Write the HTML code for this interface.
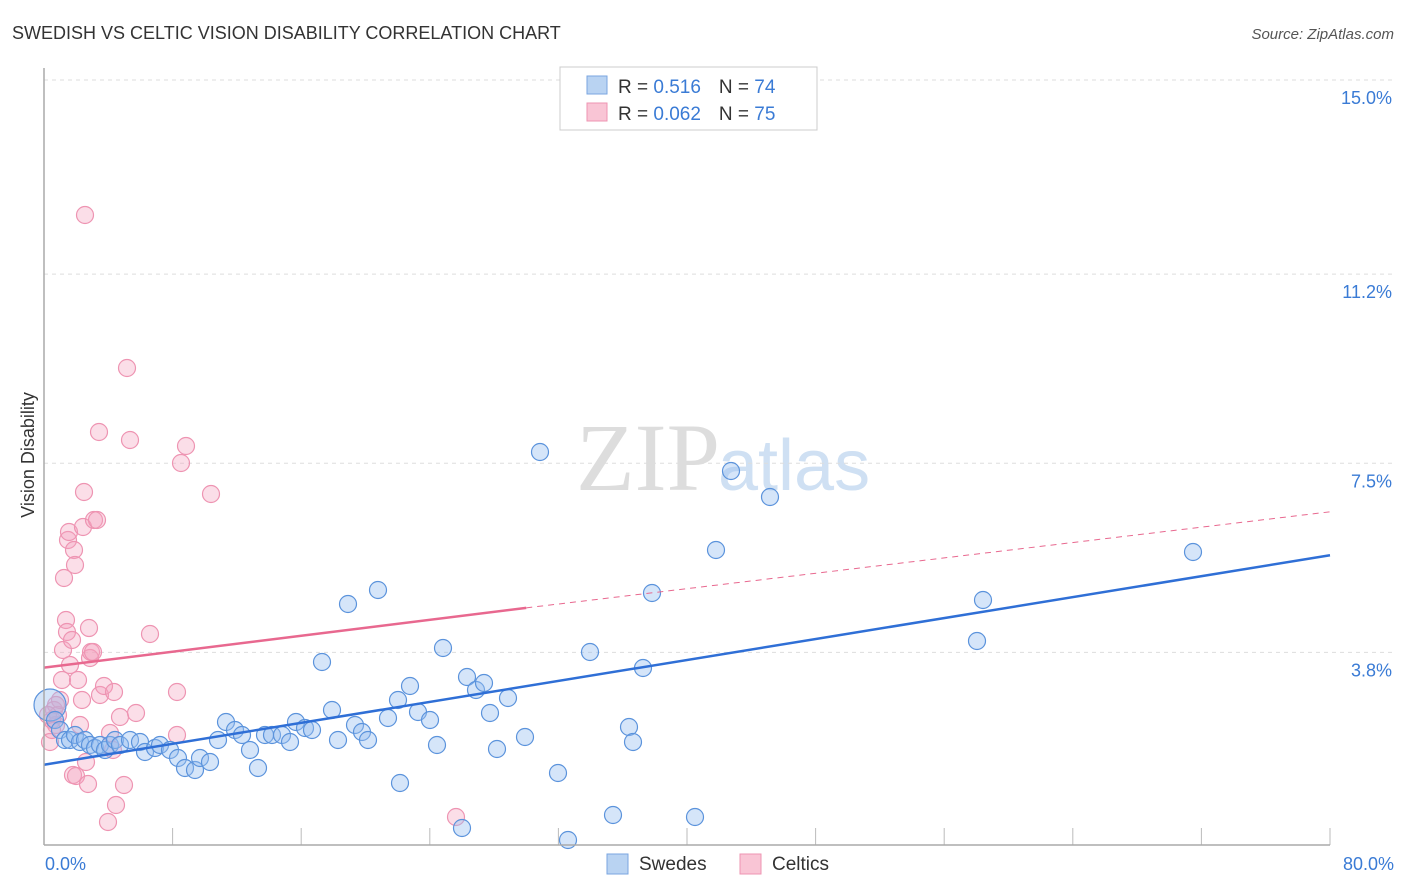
<!DOCTYPE html>
<html><head><meta charset="utf-8"><style>
body{margin:0;background:#fff;font-family:"Liberation Sans",sans-serif}
svg{display:block}
</style></head><body>
<svg id="c" width="1406" height="892">
<text x="12" y="39" font-size="18" fill="#333">SWEDISH VS CELTIC VISION DISABILITY CORRELATION CHART</text>
<text x="1394" y="39" font-size="15" fill="#555" font-style="italic" text-anchor="end">Source: ZipAtlas.com</text>
<text x="720" y="490" font-size="96" fill="#ddd" font-family="Liberation Serif" text-anchor="end">ZIP</text>
<text x="718" y="490" font-size="72" fill="#cfe0f3">atlas</text>
<text transform="translate(34,455) rotate(-90)" font-size="18" fill="#333" text-anchor="middle">Vision Disability</text>
<g id="grid"></g><g id="pts"></g><g id="lines"></g>
<line x1="44" y1="68" x2="44" y2="845" stroke="#aaa" stroke-width="1.5"/>
<line x1="44" y1="845" x2="1330" y2="845" stroke="#aaa" stroke-width="1.5"/>
<text x="45" y="870" font-size="18" fill="#3a7bd5">0.0%</text>
<text x="1394" y="870" font-size="18" fill="#3a7bd5" text-anchor="end">80.0%</text>
<g>
<rect x="560" y="67" width="257" height="63" fill="#fff" stroke="#ccc"/>
<rect x="587" y="76" width="20" height="18" fill="#b9d3f2" stroke="#7aa6e0"/>
<rect x="587" y="103" width="20" height="18" fill="#f9c5d5" stroke="#ee94b2"/>
<text x="618" y="93" font-size="19" fill="#333">R = <tspan fill="#3a7bd5">0.516</tspan><tspan dx="18">N = </tspan><tspan fill="#3a7bd5">74</tspan></text>
<text x="618" y="120" font-size="19" fill="#333">R = <tspan fill="#3a7bd5">0.062</tspan><tspan dx="18">N = </tspan><tspan fill="#3a7bd5">75</tspan></text>
</g>
<g>
<rect x="607" y="854" width="21" height="20" fill="#b9d3f2" stroke="#7aa6e0"/>
<text x="639" y="870" font-size="19" fill="#333">Swedes</text>
<rect x="740" y="854" width="21" height="20" fill="#f9c5d5" stroke="#ee94b2"/>
<text x="772" y="870" font-size="19" fill="#333">Celtics</text>
</g>
</svg>
<script>
const yTicks=[15.0,11.2,7.5,3.8];
const yTickLabels=["15.0%","11.2%","7.5%","3.8%"];
const xTicks=[0,8,16,24,32,40,48,56,64,72,80];
const bluePx=[[50,705],[55,720],[60,730],[65,740],[70,740],[75,735],[80,742],[85,740],[90,745],[95,748],[100,745],[105,750],[110,745],[115,740],[120,745],[130,740],[140,742],[145,752],[155,748],[160,745],[170,750],[178,758],[185,768],[195,770],[200,758],[210,762],[218,740],[226,722],[235,730],[242,735],[250,750],[258,768],[265,735],[272,735],[282,735],[290,742],[296,722],[305,728],[312,730],[322,662],[332,710],[338,740],[348,604],[355,725],[362,732],[368,740],[378,590],[388,718],[398,700],[400,783],[410,686],[418,712],[430,720],[437,745],[443,648],[462,828],[467,677],[476,690],[484,683],[490,713],[497,749],[508,698],[525,737],[540,452],[558,773],[568,840],[590,652],[613,815],[629,727],[633,742],[643,668],[652,593],[695,817],[716,550],[731,471],[770,497],[977,641],[983,600],[1193,552]];
const pinkPx=[[50,742],[52,720],[54,710],[56,725],[58,715],[60,700],[62,680],[63,650],[64,578],[66,620],[67,632],[68,540],[69,532],[70,665],[72,640],[73,775],[74,550],[75,565],[76,776],[78,680],[80,725],[82,700],[83,527],[84,492],[85,215],[86,762],[88,784],[89,628],[90,658],[91,652],[93,652],[94,520],[97,520],[99,432],[100,695],[104,686],[108,822],[110,733],[113,750],[114,692],[116,805],[120,717],[124,785],[127,368],[130,440],[136,713],[150,634],[177,692],[177,735],[181,463],[186,446],[211,494],[456,817],[52,730],[56,705],[48,715]];
// convert reading positions to data values
const X0=44,X1=1330,YTOP=80,PXPER=51.1;
const toX=px=>(px-X0)/(X1-X0)*80, toY=py=>15-(py-YTOP)/PXPER;
const swedesX=bluePx.map(p=>toX(p[0])), swedesY=bluePx.map(p=>toY(p[1]));
const celticsX=pinkPx.map(p=>toX(p[0])), celticsY=pinkPx.map(p=>toY(p[1]));
const blueTrend=[[0,1.6],[80,5.7]];
const pinkTrend=[[0,3.5],[30,4.67],[80,6.55]];
const sx=v=>X0+v/80*(X1-X0), sy=v=>YTOP+(15-v)*PXPER;
const NS="http://www.w3.org/2000/svg";
function mk(t,a,p){const e=document.createElementNS(NS,t);for(const k in a)e.setAttribute(k,a[k]);p.appendChild(e);return e;}
const g=document.getElementById('grid');
yTicks.forEach((v,i)=>{
 const l=mk('line',{x1:44,x2:1394,y1:sy(v),y2:sy(v),stroke:'#ddd','stroke-dasharray':'4,4'},g);
 
 
 const t=mk('text',{x:1392,y:sy(v)+24,'font-size':18,fill:'#3a7bd5','text-anchor':'end'},g);
 t.textContent=yTickLabels[i];
 
 
});
xTicks.forEach(v=>{
 const l=mk('line',{x1:sx(v),x2:sx(v),y1:828,y2:845,stroke:'#bbb'},g);
 
 
});
const pg=document.getElementById('pts');
celticsX.forEach((x,i)=>{
 const c=mk('circle',{cx:sx(x),cy:sy(celticsY[i]),r:8.5,fill:'rgba(244,160,188,0.35)',stroke:'#ee94b2','stroke-width':1.2},pg);
 
 
});
swedesX.forEach((x,i)=>{
 const c=mk('circle',{cx:sx(x),cy:sy(swedesY[i]),r:i==0?16:8.5,fill:'rgba(150,190,240,0.4)',stroke:'#5b93dc','stroke-width':1.2},pg);
 
 
});
const lg=document.getElementById('lines');
let b=mk('line',{x1:sx(blueTrend[0][0]),y1:sy(blueTrend[0][1]),x2:sx(blueTrend[1][0]),y2:sy(blueTrend[1][1]),stroke:'#2f6fd6','stroke-width':2.5},lg);


let p1=mk('line',{x1:sx(pinkTrend[0][0]),y1:sy(pinkTrend[0][1]),x2:sx(pinkTrend[1][0]),y2:sy(pinkTrend[1][1]),stroke:'#e8688f','stroke-width':2.5},lg);


let p2=mk('line',{x1:sx(pinkTrend[1][0]),y1:sy(pinkTrend[1][1]),x2:sx(pinkTrend[2][0]),y2:sy(pinkTrend[2][1]),stroke:'#e8688f','stroke-width':1,'stroke-dasharray':'6,5'},lg);


</script>
</body></html>
